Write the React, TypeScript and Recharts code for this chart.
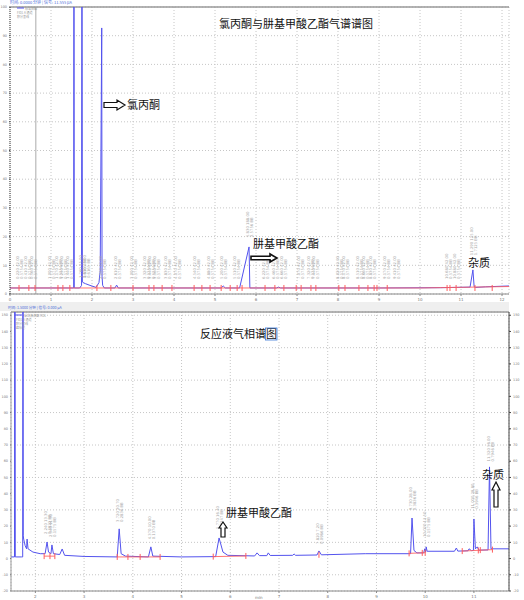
import { CartesianGrid, ComposedChart, Line, ReferenceLine, Scatter, XAxis, YAxis } from "recharts";

const BLUE = "#5353ee";
const RED = "#ff5c5c";
const GRID = "#c6c6c6";

// 上图：氯丙酮与肼基甲酸乙酯标准谱图
const TOP_TIMES = [0, 0.5, 1.0, 1.553, 1.56, 1.567, 1.7, 1.745, 1.755, 1.765, 1.78, 1.84, 1.95, 2.1, 2.17, 2.2, 2.237, 2.245, 2.26, 2.3, 2.56, 2.6, 2.64, 5.15, 5.2, 5.25, 5.6, 5.83, 5.85, 6.5, 6.55, 6.6, 9.0, 10.5, 11.22, 11.29, 11.32, 11.36, 11.6, 12.17];
const TOP_SIGNAL = [21, 21, 21, 21, 1500, 21, 21, 30, 1500, 42, 40, 36, 30, 23, 40, 80, 927, 60, 30, 21, 21, 31, 21, 21, 28, 21, 21, 164, 21, 21, 24, 21, 21, 22, 24, 84, 25, 23, 25, 28];
const TOP_BASE_TIMES = [0, 10.0, 12.17];
const TOP_BASE = [21, 21, 26];
const TOP_TICK_TIMES = [0.22, 0.46, 0.61, 1.17, 1.29, 1.46, 2.12, 2.46, 3.0, 3.39, 3.51, 3.71, 3.95, 4.49, 4.68, 4.88, 5.15, 5.37, 5.54, 5.66, 6.22, 6.46, 6.68, 6.98, 7.1, 7.34, 7.46, 8.02, 8.17, 8.51, 8.73, 8.88, 8.95, 9.2, 10.66, 10.73, 10.88, 11.34, 11.76];
const TOP_LABEL_TIMES = [0.22, 0.41, 0.56, 1.0, 1.17, 1.29, 1.44, 1.76, 1.85, 2.24, 2.61, 3.0, 3.32, 3.44, 3.56, 3.83, 4.07, 4.54, 4.88, 5.2, 5.51, 5.83, 6.22, 6.46, 6.66, 7.07, 7.32, 7.44, 8.02, 8.17, 8.51, 8.66, 8.83, 9.17, 9.41, 10.68, 10.88, 11.29];
const TOP_LABEL_LEVELS = [42, 42, 42, 42, 42, 42, 42, 45, 45, 42, 42, 42, 42, 42, 42, 42, 42, 42, 42, 42, 42, 188, 42, 42, 42, 42, 42, 42, 42, 42, 42, 42, 42, 42, 42, 42, 42, 125];
const TOP_X_TICKS = [0, 1, 2, 3, 4, 5, 6, 7, 8, 9, 10, 11, 12];
const TOP_Y_TICKS = [0, 100, 200, 300, 400, 500, 600, 700, 800, 900, 1000];

// 下图：反应液谱图
const BOT_TIMES = [1.5, 1.572, 1.58, 1.588, 1.72, 1.74, 1.745, 1.752, 1.76, 1.79, 1.82, 1.83, 1.85, 1.95, 2.1, 2.2, 2.24, 2.27, 2.32, 2.34, 2.37, 2.5, 2.55, 2.6, 3.0, 3.68, 3.72, 3.76, 3.85, 4.32, 4.37, 4.41, 5.0, 5.7, 5.77, 5.85, 5.95, 6.5, 6.55, 6.6, 6.75, 6.78, 6.82, 7.28, 7.31, 7.34, 7.78, 7.82, 7.87, 8.77, 9.7, 9.73, 9.77, 9.83, 9.97, 9.99, 10.01, 10.02, 10.04, 10.6, 10.64, 10.67, 10.88, 10.9, 10.95, 10.99, 11.0, 11.03, 11.07, 11.1, 11.29, 11.32, 11.35, 11.72];
const BOT_SIGNAL = [1, 1, 400, 1, 1, 1, 400, 14, 12, 8, 6, 12, 6, 4, 3, 3, 10.2, 4, 3, 8.4, 3, 2.5, 5.9, 2, 1.3, 1, 18.3, 3, 1.5, 1, 7.2, 1.5, 1, 1.2, 12.7, 4, 2, 1.6, 3.5, 1.8, 1.8, 3.5, 1.9, 2, 2.8, 2, 2.2, 4.7, 2.3, 3, 3, 25, 5, 3.5, 3.5, 6, 4, 7.2, 4.5, 4.5, 6.5, 4.6, 4.8, 6, 4.9, 5, 24.4, 6, 7.2, 5.2, 5.3, 56.5, 6, 6];
const BOT_RED_TIMES = [2.18, 2.4, 3.0, 3.68, 4.56, 5.0, 5.65, 6.32, 8.0, 9.67, 10.0, 10.4, 10.76, 11.38];
const BOT_RED = [1.5, 1.5, null, 1, 1, null, 1.2, 1.6, null, 3.2, 3.6, null, 4.6, 5.5];
const BOT_TICK_TIMES = [2.18, 2.3, 2.4, 3.68, 3.9, 4.15, 4.56, 5.65, 6.32, 7.82, 9.67, 9.94, 10.0, 10.76, 11.09, 11.13, 11.38];
const BOT_TICK_LEVELS = [1.5, 1.5, 1.5, 1, 1, 1, 1, 1.2, 1.6, 2.3, 3.2, 3.5, 3.6, 4.6, 5, 5.2, 5.5];
const BOT_LABEL_TIMES = [2.24, 2.34, 3.72, 4.37, 5.77, 7.82, 9.73, 10.02, 11.0, 11.32];
const BOT_LABEL_LEVELS = [13.3, 11.5, 20.7, 10, 16.4, 7.2, 28, 11.5, 28.8, 58];
const BOT_X_TICKS = [2, 3, 4, 5, 6, 7, 8, 9, 10, 11];
const BOT_Y_TICKS = [-20, -10, 0, 10, 20, 30, 40, 50, 60, 70, 80, 90, 100, 110, 120, 130, 140, 150];

const zip = (ts: number[], vs: (number | null)[]) => ts.map((t, i) => ({ t, v: vs[i] }));

const topTrace = zip(TOP_TIMES, TOP_SIGNAL);
const topBase = zip(TOP_BASE_TIMES, TOP_BASE);
const topTicks = TOP_TICK_TIMES.map((t) => ({ t, v: 21 }));
const topLabels = TOP_LABEL_TIMES.map((t, i) => ({ t, v: TOP_LABEL_LEVELS[i] }));

const botTrace = zip(BOT_TIMES, BOT_SIGNAL);
const botRed = zip(BOT_RED_TIMES, BOT_RED);
const botTicks = zip(BOT_TICK_TIMES, BOT_TICK_LEVELS);
const botLabels = zip(BOT_LABEL_TIMES, BOT_LABEL_LEVELS);

const tinyTick = { fontSize: 4, fill: "#777" };
const tinyY = { fontSize: 3.4, fill: "#777" };

function RedTick(props: any) {
  const { cx, cy } = props;
  if (cx == null || cy == null) return null;
  return <line x1={cx} x2={cx} y1={cy - 3} y2={cy + 3} stroke={RED} strokeWidth={1} />;
}

function PeakLabel(props: any) {
  const { cx, cy, payload } = props;
  if (cx == null || cy == null) return null;
  const y = cy - 3;
  const cols = [payload.t.toFixed(3) + "  " + payload.v.toFixed(2), (payload.v * 0.0137).toFixed(4) + "  BB"];
  return (
    <g>
      {cols.map((s, i) => (
        <text
          key={i}
          x={cx + i * 4}
          y={y}
          transform={`rotate(-90 ${cx + i * 4} ${y})`}
          fontSize={3.8}
          fill="#a8a8a8"
        >
          {s}
        </text>
      ))}
    </g>
  );
}

function TopChart() {
  return (
    <ComposedChart width={524} height={302} margin={{ top: 7, right: 15, bottom: 0, left: 0 }}>
      <CartesianGrid stroke={GRID} strokeDasharray="1 2" />
      <XAxis
        type="number"
        dataKey="t"
        domain={[0, 12.17]}
        ticks={TOP_X_TICKS}
        allowDataOverflow
        height={8}
        tick={tinyTick}
        tickSize={2}
        axisLine={{ stroke: "#888" }}
        tickLine={{ stroke: "#888" }}
      />
      <YAxis
        type="number"
        domain={[0, 1000]}
        ticks={TOP_Y_TICKS}
        tickFormatter={(v: number) => String(v / 10)}
        allowDataOverflow
        width={10}
        tick={tinyY}
        tickSize={1}
        axisLine={{ stroke: "#333", strokeDasharray: "1 1" }}
        tickLine={{ stroke: "#555" }}
      />
      <ReferenceLine y={1000} stroke="#9a9a9a" strokeWidth={1.5} />
      <ReferenceLine x={0.63} stroke="#aaaaaa" />
      <Line data={topTrace} dataKey="v" stroke={BLUE} strokeWidth={1} dot={false} isAnimationActive={false} />
      <Line data={topBase} dataKey="v" stroke={RED} strokeOpacity={0.85} strokeWidth={1} dot={false} isAnimationActive={false} />
      <Scatter data={topTicks} dataKey="v" shape={RedTick} isAnimationActive={false} />
      <Scatter data={topLabels} dataKey="v" shape={PeakLabel} isAnimationActive={false} />
    </ComposedChart>
  );
}

function BottomChart() {
  return (
    <ComposedChart width={524} height={300} margin={{ top: 12, right: 0, bottom: 0, left: 0 }}>
      <CartesianGrid stroke={GRID} strokeDasharray="1 2" yAxisId="l" />
      <XAxis
        type="number"
        dataKey="t"
        domain={[1.5, 11.72]}
        ticks={BOT_X_TICKS}
        allowDataOverflow
        height={9}
        tick={tinyTick}
        tickSize={2}
        axisLine={{ stroke: "#888" }}
        tickLine={{ stroke: "#888" }}
      />
      <YAxis
        yAxisId="l"
        type="number"
        domain={[-20, 152]}
        ticks={BOT_Y_TICKS}
        allowDataOverflow
        width={11}
        tick={tinyY}
        tickSize={1}
        axisLine={{ stroke: "#999" }}
        tickLine={{ stroke: "#777" }}
      />
      <YAxis
        yAxisId="r"
        orientation="right"
        type="number"
        domain={[-20, 152]}
        ticks={BOT_Y_TICKS}
        allowDataOverflow
        width={15}
        tick={tinyY}
        tickSize={2}
        axisLine={{ stroke: "#444" }}
        tickLine={{ stroke: "#444" }}
      />
      <ReferenceLine yAxisId="l" y={152} stroke="#9a9a9a" strokeWidth={1.5} />
      <Line yAxisId="l" data={botTrace} dataKey="v" stroke={BLUE} strokeWidth={1} dot={false} isAnimationActive={false} />
      <Line yAxisId="l" data={botRed} dataKey="v" stroke={RED} strokeOpacity={0.85} strokeWidth={1} dot={false} isAnimationActive={false} />
      <Scatter yAxisId="l" data={botTicks} dataKey="v" shape={RedTick} isAnimationActive={false} />
      <Scatter yAxisId="l" data={botLabels} dataKey="v" shape={PeakLabel} isAnimationActive={false} />
    </ComposedChart>
  );
}

const CJK = "'Noto Sans CJK SC', sans-serif";

function Overlay() {
  return (
    <svg width={524} height={600} style={{ position: "absolute", left: 0, top: 0, pointerEvents: "none" }}>
      {/* header strips */}
      <text x={10} y={4} fontSize={4} fill="#4a6ad8" fontFamily={CJK}>时间: 0.0000 分钟 | 信号: 11.555 μA</text>
      <rect x={0} y={302} width={509} height={9} fill="#efefef" />
      <text x={8} y={309} fontSize={3.6} fill="#4a6ad8" fontFamily={CJK}>时间: 1.5000 分钟 | 信号: 0.000 μA</text>

      {/* legends */}
      <line x1={17} x2={24} y1={8} y2={8} stroke={BLUE} strokeWidth={1} />
      <text x={25} y={9.5} fontSize={3} fill="#999" fontFamily={CJK}>标准谱图</text>
      <text x={17} y={13.5} fontSize={3} fill="#999" fontFamily={CJK}>FID1 A 通道</text>
      <text x={17} y={17.5} fontSize={3} fill="#999" fontFamily={CJK}>积分基线</text>
      <line x1={15} x2={22} y1={315} y2={315} stroke={BLUE} strokeWidth={1} />
      <text x={24} y={316.5} fontSize={3} fill="#999" fontFamily={CJK}>反应液谱图 FID1</text>
      <text x={16} y={320.5} fontSize={3} fill="#999" fontFamily={CJK}>FID1 A 通道</text>
      <text x={16} y={324.5} fontSize={3} fill="#999" fontFamily={CJK}>积分基线</text>
      <text x={16} y={328.5} fontSize={3} fill="#999" fontFamily={CJK}>峰标记</text>
      <text x={255} y={599} fontSize={4} fill="#777">min</text>

      {/* top chart annotations */}
      <text x={219} y={28} fontSize={11} fill="#111" fontFamily={CJK}>氯丙酮与肼基甲酸乙酯气谱谱图</text>
      <polygon
        points="104,102.5 117,102.5 117,100 125,105 117,110 117,107.5 104,107.5"
        fill="#fff"
        stroke="#111"
        strokeWidth={1.2}
      />
      <text x={127} y={109} fontSize={11} fill="#111" fontFamily={CJK}>氯丙酮</text>
      <text x={253} y={248} fontSize={11} fill="#111" fontFamily={CJK}>肼基甲酸乙酯</text>
      <polygon
        points="251,256.3 270,256.3 270,254 277,258 270,262 270,259.7 251,259.7"
        fill="#fff"
        stroke="#111"
        strokeWidth={1.6}
      />
      <text x={468} y={267} fontSize={11} fill="#111" fontFamily={CJK}>杂质</text>

      {/* bottom chart annotations */}
      <text x={200} y={338} fontSize={11} fill="#111" fontFamily={CJK}>反应液气相谱图</text>
      <rect x={265.5} y={328} width={11.5} height={12} fill="none" stroke="#3a78d8" strokeWidth={0.8} />
      <text x={226} y={517} fontSize={11} fill="#111" fontFamily={CJK}>肼基甲酸乙酯</text>
      <polygon
        points="223,522 227,528 225,528 225,537 221,537 221,528 219,528"
        fill="#fff"
        stroke="#111"
        strokeWidth={1.2}
      />
      <text x={482} y={479} fontSize={11} fill="#111" fontFamily={CJK}>杂质</text>
      <polygon
        points="496,482 500,490 498,490 498,507 494,507 494,490 492,490"
        fill="#fff"
        stroke="#111"
        strokeWidth={1.2}
      />
    </svg>
  );
}

export default function App() {
  return (
    <div
      style={{
        position: "absolute",
        left: 0,
        top: 0,
        width: 524,
        height: 600,
        background: "#fff",
        fontFamily: "'DejaVu Sans', sans-serif",
      }}
    >
      <div style={{ position: "absolute", left: 0, top: 0 }}>
        <TopChart />
      </div>
      <div style={{ position: "absolute", left: 0, top: 300 }}>
        <BottomChart />
      </div>
      <Overlay />
    </div>
  );
}
